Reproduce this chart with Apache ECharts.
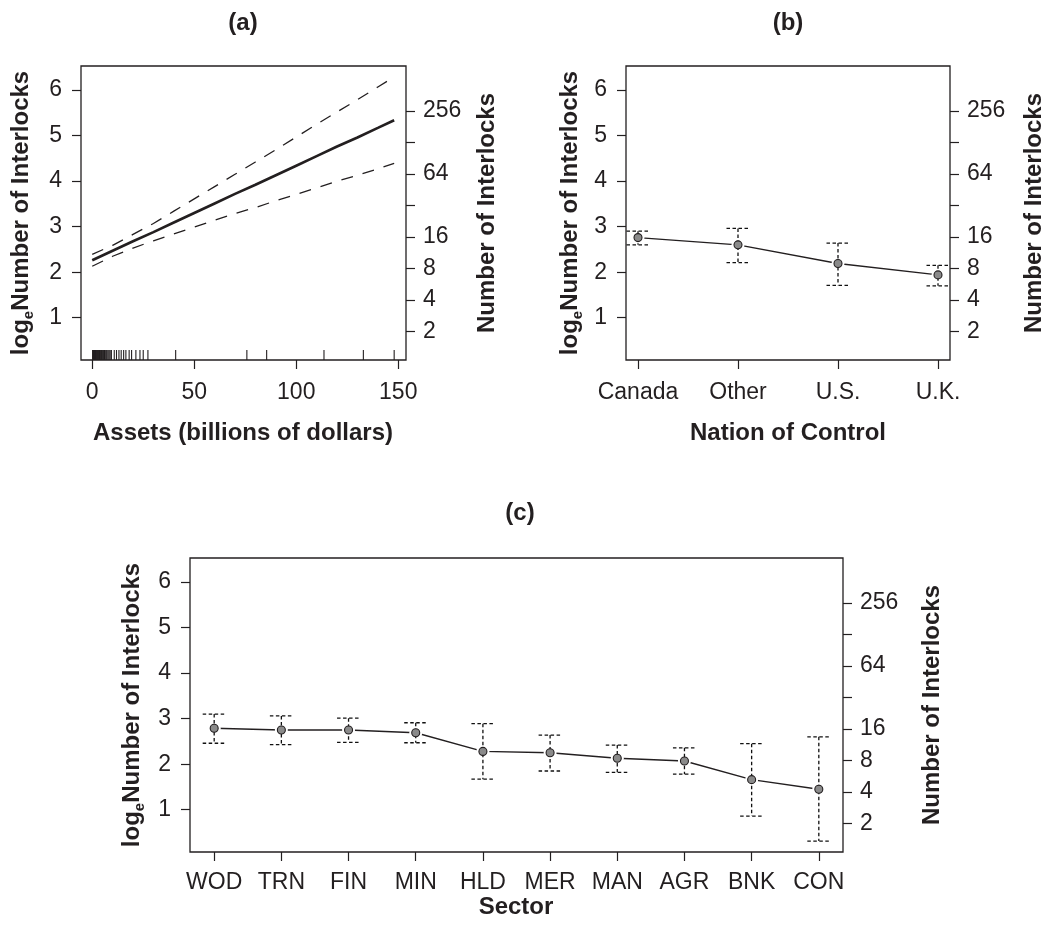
<!DOCTYPE html>
<html>
<head>
<meta charset="utf-8">
<script src="https://cdn.jsdelivr.net/npm/echarts@6/dist/echarts.min.js"></script>
<style>
  html, body { margin: 0; padding: 0; background: #fff; }
  #chart { width: 1050px; height: 925px; }
</style>
</head>
<body>
<div id="chart"></div>
<script>
  // panel (a): assets effect
  var assetsX = [0, 10, 20, 30, 40, 50, 60, 70, 80, 90, 100, 110, 120, 130, 140, 148];
  var assetsFit = [2.26, 2.47, 2.68, 2.88, 3.09, 3.30, 3.51, 3.72, 3.92, 4.13, 4.34, 4.55, 4.76, 4.96, 5.17, 5.34];
  var assetsUpper = [2.39, 2.59, 2.83, 3.07, 3.34, 3.61, 3.88, 4.15, 4.42, 4.69, 4.97, 5.25, 5.52, 5.79, 6.07, 6.29];
  var assetsLower = [2.13, 2.35, 2.53, 2.69, 2.84, 2.99, 3.14, 3.29, 3.42, 3.57, 3.71, 3.85, 4.00, 4.13, 4.27, 4.39];
  var rugAssets = [0.2, 0.4, 0.5, 0.7, 0.9, 1.0, 1.2, 1.4, 1.6, 1.8, 2.0, 2.3, 2.5, 2.8, 3.0, 3.3,
    3.6, 3.9, 4.2, 4.5, 4.9, 5.2, 5.6, 6.0, 6.4, 6.9, 7.3, 7.8, 8.3, 8.8, 9.4,
    10.8, 11.9, 13.1, 14.2, 15.4, 16.5, 18.1, 19.3, 21.4, 23.4, 25.0, 27.3,
    40.9, 75.8, 85.5, 113.6, 132.9, 148.0];
  var assetsTicks = [0, 50, 100, 150];

  // panel (b): nation of control
  var nations = ['Canada', 'Other', 'U.S.', 'U.K.'];
  var nationEst = [2.76, 2.60, 2.19, 1.94];
  var nationLower = [2.60, 2.21, 1.71, 1.70];
  var nationUpper = [2.90, 2.96, 2.64, 2.15];

  // panel (c): sector
  var sectors = ['WOD', 'TRN', 'FIN', 'MIN', 'HLD', 'MER', 'MAN', 'AGR', 'BNK', 'CON'];
  var sectorEst = [2.79, 2.75, 2.75, 2.69, 2.28, 2.25, 2.13, 2.07, 1.66, 1.45];
  var sectorLower = [2.46, 2.43, 2.48, 2.47, 1.67, 1.85, 1.82, 1.78, 0.86, 0.31];
  var sectorUpper = [3.10, 3.06, 3.01, 2.91, 2.89, 2.64, 2.42, 2.36, 2.45, 2.60];

  // axis ticks
  var logTicks = [1, 2, 3, 4, 5, 6];
  var countTicks = [2, 4, 8, 16, 32, 64, 128, 256];
  var countLabels = [2, 4, 8, 16, 64, 256];

  var FONT = 'Liberation Sans, Arial, Helvetica, sans-serif';
  var INK = '#231f20';
  var yMin = 0.07, yMax = 6.53;

  var chart = echarts.init(document.getElementById('chart'));

  function zip(xs, ys) {
    return xs.map(function (x, i) { return [x, ys[i]]; });
  }
  function idx(arr) {
    return arr.map(function (_, i) { return i; });
  }

  function xAx(grid, min, max, ticks, fmt, margin) {
    return {
      type: 'value', gridIndex: grid, min: min, max: max,
      splitLine: { show: false },
      axisLine: { show: false, onZero: false },
      axisTick: { show: true, length: 9, customValues: ticks, lineStyle: { color: INK, width: 1.2 } },
      axisLabel: {
        customValues: ticks, margin: margin, fontSize: 23, fontFamily: FONT, color: INK,
        formatter: fmt
      }
    };
  }
  function yLeft(grid) {
    return {
      type: 'value', gridIndex: grid, position: 'left', min: yMin, max: yMax,
      splitLine: { show: false },
      axisLine: { show: false, onZero: false },
      axisTick: { show: true, length: 9, customValues: logTicks, lineStyle: { color: INK, width: 1.2 } },
      axisLabel: { customValues: logTicks, margin: 19, fontSize: 23, fontFamily: FONT, color: INK }
    };
  }
  function yRight(grid) {
    return {
      type: 'value', gridIndex: grid, position: 'right', min: yMin, max: yMax,
      splitLine: { show: false },
      axisLine: { show: false, onZero: false },
      axisTick: { show: true, length: 9, customValues: countTicks.map(Math.log), lineStyle: { color: INK, width: 1.2 } },
      axisLabel: {
        customValues: countLabels.map(Math.log), margin: 17, fontSize: 23, fontFamily: FONT, color: INK,
        formatter: function (v) { return String(Math.round(Math.exp(v))); }
      }
    };
  }

  function errorBars(xi, yi, lo, hi) {
    var data = lo.map(function (l, i) { return [i, l, hi[i]]; });
    return {
      type: 'custom', xAxisIndex: xi, yAxisIndex: yi, z: 4, silent: true,
      encode: { x: 0, y: [1, 2] },
      data: data,
      renderItem: function (params, api) {
        var top = api.coord([api.value(0), api.value(2)]);
        var bot = api.coord([api.value(0), api.value(1)]);
        var w = 11.5;
        var st = { stroke: '#111', lineWidth: 1.3, lineDash: [3.5, 2.5] };
        return {
          type: 'group',
          children: [
            { type: 'line', shape: { x1: top[0], y1: top[1], x2: bot[0], y2: bot[1] }, style: st },
            { type: 'line', shape: { x1: top[0] - w, y1: top[1], x2: top[0] + w, y2: top[1] }, style: st },
            { type: 'line', shape: { x1: bot[0] - w, y1: bot[1], x2: bot[0] + w, y2: bot[1] }, style: st }
          ]
        };
      }
    };
  }
  function effectSeries(xi, yi, est, lo, hi) {
    var pts = zip(idx(est), est);
    return [
      { type: 'line', xAxisIndex: xi, yAxisIndex: yi, data: pts, symbol: 'none', z: 2,
        lineStyle: { color: INK, width: 1.4 } },
      { type: 'scatter', xAxisIndex: xi, yAxisIndex: yi, data: pts, symbolSize: 13, z: 3,
        itemStyle: { color: '#fff', opacity: 1 } },
      errorBars(xi, yi, lo, hi),
      { type: 'scatter', xAxisIndex: xi, yAxisIndex: yi, data: pts, symbolSize: 8, z: 5,
        itemStyle: { color: '#8a8a8a', borderColor: INK, borderWidth: 1.1, opacity: 1 } }
    ];
  }

  function title(text, x, y, rot) {
    return {
      type: 'text', x: x, y: y, rotation: rot || 0,
      style: {
        text: text, fontSize: 24, fontWeight: 'bold', fontFamily: FONT, fill: INK,
        textAlign: 'center', textVerticalAlign: 'middle', align: 'center', verticalAlign: 'middle'
      }
    };
  }
  function logTitle(x, y) {
    return {
      type: 'text', x: x, y: y, rotation: Math.PI / 2,
      style: {
        text: '{a|log}{b|e}{a|Number of Interlocks}',
        fill: INK,
        textAlign: 'center', textVerticalAlign: 'middle', align: 'center', verticalAlign: 'middle',
        rich: {
          a: { fontSize: 24, fontWeight: 'bold', fontFamily: FONT, lineHeight: 30, verticalAlign: 'middle', fill: INK },
          b: { fontSize: 15, fontWeight: 'bold', fontFamily: FONT, lineHeight: 30, verticalAlign: 'bottom', fill: INK }
        }
      }
    };
  }

  var gridStyle = { show: true, borderColor: INK, borderWidth: 1.3, containLabel: false };

  var option = {
    animation: false,
    backgroundColor: '#fff',
    grid: [
      Object.assign({ left: 81, right: 644, top: 66, height: 294 }, gridStyle),
      Object.assign({ left: 626, right: 100, top: 66, height: 294 }, gridStyle),
      Object.assign({ left: 190, right: 207, top: 558, height: 294 }, gridStyle)
    ],
    xAxis: [
      xAx(0, -5.5, 153.8, assetsTicks, null, 21),
      xAx(1, -0.12, 3.12, idx(nations), function (v) { return nations[Math.round(v)]; }, 21),
      xAx(2, -0.36, 9.36, idx(sectors), function (v) { return sectors[Math.round(v)]; }, 19)
    ],
    yAxis: [yLeft(0), yRight(0), yLeft(1), yRight(1), yLeft(2), yRight(2)],
    graphic: [
      title('(a)', 243, 23),
      title('(b)', 788, 23),
      title('(c)', 520, 513),
      title('Assets (billions of dollars)', 243, 433),
      title('Nation of Control', 788, 433),
      title('Sector', 516, 907),
      logTitle(21, 213),
      logTitle(570, 213),
      logTitle(132, 705),
      title('Number of Interlocks', 487, 213, Math.PI / 2),
      title('Number of Interlocks', 1034, 213, Math.PI / 2),
      title('Number of Interlocks', 932, 705, Math.PI / 2)
    ],
    series: [
      { type: 'line', xAxisIndex: 0, yAxisIndex: 0, data: zip(assetsX, assetsFit), symbol: 'none',
        lineStyle: { color: INK, width: 2.7 }, z: 3 },
      { type: 'line', xAxisIndex: 0, yAxisIndex: 0, data: zip(assetsX, assetsUpper), symbol: 'none',
        lineStyle: { color: INK, width: 1.3, type: [12, 10] }, z: 2 },
      { type: 'line', xAxisIndex: 0, yAxisIndex: 0, data: zip(assetsX, assetsLower), symbol: 'none',
        lineStyle: { color: INK, width: 1.3, type: [12, 10] }, z: 2 },
      {
        type: 'custom', xAxisIndex: 0, yAxisIndex: 0, silent: true, z: 2,
        data: rugAssets.map(function (v) { return [v]; }),
        encode: { x: 0 },
        renderItem: function (params, api) {
          var p = api.coord([api.value(0), yMin]);
          return { type: 'line', shape: { x1: p[0], y1: p[1], x2: p[0], y2: p[1] - 10 },
            style: { stroke: INK, lineWidth: 1.1 } };
        }
      }
    ]
      .concat(effectSeries(1, 2, nationEst, nationLower, nationUpper))
      .concat(effectSeries(2, 4, sectorEst, sectorLower, sectorUpper))
  };

  chart.setOption(option);
</script>
</body>
</html>
